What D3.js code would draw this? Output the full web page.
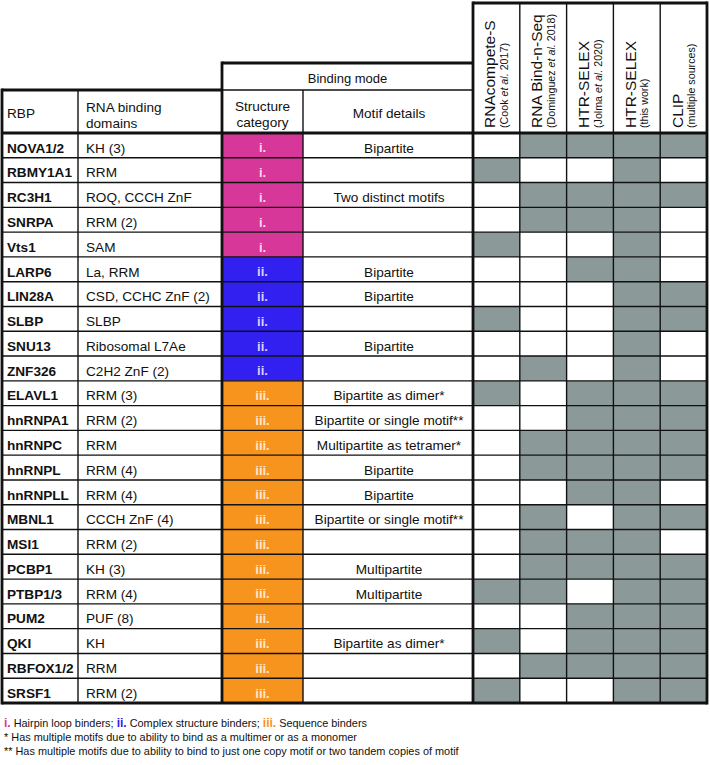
<!DOCTYPE html>
<html>
<head>
<meta charset="utf-8">
<script src="https://cdn.jsdelivr.net/npm/d3@7"></script>
<style>
  html, body { margin: 0; padding: 0; background: #fff; }
  svg { display: block; font-family: "Liberation Sans", Arial, Helvetica, sans-serif; }
</style>
</head>
<body>
<svg id="chart" width="710" height="765"></svg>
<script>
// ---------- DATA ----------
const rbps = ["NOVA1/2","RBMY1A1","RC3H1","SNRPA","Vts1","LARP6","LIN28A","SLBP","SNU13","ZNF326",
  "ELAVL1","hnRNPA1","hnRNPC","hnRNPL","hnRNPLL","MBNL1","MSI1","PCBP1","PTBP1/3","PUM2","QKI","RBFOX1/2","SRSF1"];
const domains = ["KH (3)","RRM","ROQ, CCCH ZnF","RRM (2)","SAM","La, RRM","CSD, CCHC ZnF (2)","SLBP","Ribosomal L7Ae","C2H2 ZnF (2)",
  "RRM (3)","RRM (2)","RRM","RRM (4)","RRM (4)","CCCH ZnF (4)","RRM (2)","KH (3)","RRM (4)","PUF (8)","KH","RRM","RRM (2)"];
const structureCategory = [1,1,1,1,1,2,2,2,2,2,3,3,3,3,3,3,3,3,3,3,3,3,3];
const motifDetails = ["Bipartite","","Two distinct motifs","","","Bipartite","Bipartite","","Bipartite","",
  "Bipartite as dimer*","Bipartite or single motif**","Multipartite as tetramer*","Bipartite","Bipartite",
  "Bipartite or single motif**","","Multipartite","Multipartite","","Bipartite as dimer*","",""];
const categoryLabels = ["i.","ii.","iii."];
const categoryNames = ["Hairpin loop binders","Complex structure binders","Sequence binders"];
const methods = ["RNAcompete-S","RNA Bind-n-Seq","HTR-SELEX","HTR-SELEX","CLIP"];
const methodRefs = [
  [["(Cook ",false],["et al.",true],[" 2017)",false]],
  [["(Dominguez ",false],["et al.",true],[" 2018)",false]],
  [["(Jolma ",false],["et al.",true],[" 2020)",false]],
  [["(this work)",false]],
  [["(multiple sources)",false]]
];
// 1 = data available (grey cell)
const coverage = [
  [0,1,1,1,1],[1,0,0,1,0],[0,1,1,1,1],[0,1,1,1,0],[1,0,0,1,0],
  [0,0,1,1,0],[0,0,0,1,1],[1,0,0,1,1],[0,0,0,1,0],[0,1,0,1,0],
  [1,0,1,1,1],[0,0,1,1,1],[0,1,1,1,1],[0,1,1,1,1],[0,0,1,1,0],
  [0,1,0,1,1],[0,1,1,1,0],[0,1,1,1,1],[1,1,0,1,1],[0,0,1,1,1],
  [1,0,1,1,1],[0,1,1,1,1],[1,0,0,1,1]
];
const footnotes = ["* Has multiple motifs due to ability to bind as a multimer or as a monomer",
  "** Has multiple motifs due to ability to bind to just one copy motif or two tandem copies of motif"];

// ---------- LAYOUT ----------
const catColors = ["#d8379a","#3120f0","#f7941d"];
const grey = "#8b9a98";
const ink = "#111";
const xL = 2, xDom = 78, xCat = 222, xMot = 303, xMeth = 473, xR = 707;
const yMethTop = 3, yBindTop = 63, ySub = 90, yBody = 133, yBottom = 703;
const textShift = 2.3;

const svg = d3.select("#chart");
const y = d3.scaleBand().domain(d3.range(rbps.length)).range([yBody, yBottom]).paddingInner(0);
const xm = d3.scaleBand().domain(d3.range(methods.length)).range([xMeth, xR]).paddingInner(0);
const rh = y.bandwidth();
const ty = i => y(i) + rh/2 + textShift;

// category cells
svg.append("g").selectAll("rect").data(structureCategory).join("rect")
  .attr("x", xCat).attr("y", (d,i)=>y(i)).attr("width", xMot-xCat).attr("height", rh)
  .attr("fill", d=>catColors[d-1]);
svg.append("g").selectAll("text").data(structureCategory).join("text")
  .attr("x", (xCat+xMot)/2).attr("y", (d,i)=>ty(i)).attr("dy","0.36em")
  .attr("text-anchor","middle").attr("font-size",13).attr("font-weight","bold")
  .attr("fill","#fff").attr("fill-opacity",0.82)
  .text(d=>categoryLabels[d-1]);

// coverage cells
const cells = [];
coverage.forEach((row,i)=>row.forEach((v,j)=>{ if(v) cells.push({i,j}); }));
svg.append("g").selectAll("rect").data(cells).join("rect")
  .attr("x", d=>xm(d.j)).attr("y", d=>y(d.i)).attr("width", xm.bandwidth()).attr("height", rh)
  .attr("fill", grey);

// body text
const body = svg.append("g").attr("fill", ink).attr("font-size", 13.6);
body.selectAll("text.rbp").data(rbps).join("text").attr("class","rbp")
  .attr("x", xL+5).attr("y",(d,i)=>ty(i)).attr("dy","0.36em")
  .attr("font-weight","bold").text(d=>d);
body.selectAll("text.dom").data(domains).join("text").attr("class","dom")
  .attr("x", xDom+8).attr("y",(d,i)=>ty(i)).attr("dy","0.36em").text(d=>d);
body.selectAll("text.mot").data(motifDetails).join("text").attr("class","mot")
  .attr("x", (xMot+xMeth)/2 + 1).attr("y",(d,i)=>ty(i)).attr("dy","0.36em")
  .attr("text-anchor","middle").text(d=>d);

// ---------- GRID LINES ----------
const lines = svg.append("g").attr("stroke", ink).attr("fill","none");
function L(x1,y1,x2,y2,w){ lines.append("line").attr("x1",x1).attr("y1",y1).attr("x2",x2).attr("y2",y2).attr("stroke-width",w); }
const thin = 1.4, thick = 2.8;
d3.range(1, rbps.length).forEach(i => L(xL, y(i), xR, y(i), thin));
d3.range(1, methods.length).forEach(j => L(xm(j), yMethTop, xm(j), yBottom, thin));
L(xDom, ySub, xDom, yBottom, thin);
L(xMot, ySub, xMot, yBottom, thin);
L(xCat, ySub, xMeth, ySub, thin);
L(xL, ySub, xCat, ySub, thick);
L(xCat, yBindTop, xMeth, yBindTop, thick);
L(xMeth, yMethTop, xR, yMethTop, thick);
L(xL, yBody, xR, yBody, thick);
L(xL, yBottom, xR, yBottom, thick);
L(xL, ySub-1.4, xL, yBottom+1.4, thick);
L(xCat, yBindTop-1.4, xCat, yBottom, thick);
L(xMeth, yMethTop-1.4, xMeth, yBottom, thick);
L(xR, yMethTop-1.4, xR, yBottom+1.4, thick);

// ---------- HEADERS ----------
const hdr = svg.append("g").attr("fill", ink).attr("font-size", 13.6);
hdr.append("text").attr("x", xL+5).attr("y", (ySub+yBody)/2 + 2).attr("dy","0.36em").text("RBP");
hdr.append("text").attr("x", xDom+8).attr("y", 107).attr("dy","0.36em").text("RNA binding");
hdr.append("text").attr("x", xDom+8).attr("y", 123).attr("dy","0.36em").text("domains");
hdr.append("text").attr("x", (xCat+xMot)/2).attr("y", 106).attr("dy","0.36em").attr("text-anchor","middle").text("Structure");
hdr.append("text").attr("x", (xCat+xMot)/2).attr("y", 122).attr("dy","0.36em").attr("text-anchor","middle").text("category");
hdr.append("text").attr("x", (xMot+xMeth)/2 + 1).attr("y", (ySub+yBody)/2 + 2).attr("dy","0.36em").attr("text-anchor","middle").text("Motif details");
hdr.append("text").attr("x", (xCat+xMeth)/2).attr("y", (yBindTop+ySub)/2 + 1.5).attr("dy","0.36em").attr("text-anchor","middle").attr("font-size",13).text("Binding mode");

methods.forEach((m,j)=>{
  const cx = xm(j) + xm.bandwidth()/2;
  const g = hdr.append("g").attr("transform", `translate(${cx},${yBody-5}) rotate(-90)`);
  g.append("text").attr("x",0).attr("y",-1).attr("font-size",15.5).text(m);
  const t = g.append("text").attr("x",0).attr("y",11.5).attr("font-size",10.7);
  methodRefs[j].forEach(([s,it])=>t.append("tspan").attr("font-style", it?"italic":"normal").text(s));
});

// ---------- FOOTER ----------
const ft = svg.append("g").attr("fill", ink).attr("font-size", 10.9);
const l1 = ft.append("text").attr("x", 4).attr("y", 727);
categoryLabels.forEach((c,k)=>{
  l1.append("tspan").attr("fill", catColors[k]).attr("font-weight","bold").attr("font-size",12).text(c);
  l1.append("tspan").text(" " + categoryNames[k] + (k<2 ? "; " : ""));
});
footnotes.forEach((f,k)=> ft.append("text").attr("x",4).attr("y",741+k*13.5).text(f));
</script>
</body>
</html>
